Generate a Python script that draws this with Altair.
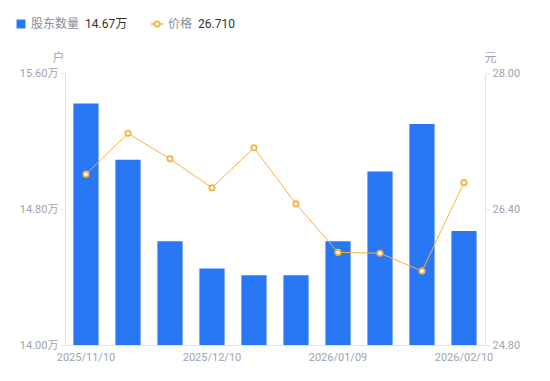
import altair as alt
import pandas as pd

dates = ["2025/11/10", "2025/11/20", "2025/11/30", "2025/12/10", "2025/12/20",
         "2025/12/31", "2026/01/09", "2026/01/20", "2026/01/30", "2026/02/10"]
holders = [15.42, 15.09, 14.61, 14.45, 14.41, 14.41, 14.61, 15.02, 15.30, 14.67]
price = [26.81, 27.29, 26.99, 26.65, 27.12, 26.46, 25.89, 25.88, 25.67, 26.71]
tick_dates = ["2025/11/10", "2025/12/10", "2026/01/09", "2026/02/10"]

df = pd.DataFrame({"date": dates, "holders": holders, "price": price})

FONT = "Roboto, Noto Sans CJK SC"
BLUE = "#2878f5"
ORANGE = "#f7b13d"
LABEL = "#a0a3b1"

x = alt.X("date:O", sort=dates, scale=alt.Scale(paddingInner=0.4, paddingOuter=0.2),
          axis=alt.Axis(values=tick_dates, labelAngle=0, ticks=False, title=None,
                        domainColor="#e3e3e3", labelColor=LABEL, labelFontSize=11,
                        labelFont=FONT, labelPadding=6))

bars = alt.Chart(df).mark_bar(color=BLUE, clip=True).encode(
    x=x,
    y=alt.Y("holders:Q", scale=alt.Scale(domain=[14.0, 15.6], zero=False),
            axis=alt.Axis(values=[14.0, 14.8, 15.6], labelExpr="format(datum.value,'.2f')+'万'",
                          grid=False, domainColor="#e3e3e3", tickColor="#e3e3e3", tickSize=5,
                          labelColor=LABEL, labelFontSize=11, labelFont=FONT, labelPadding=2,
                          title="户", titleAngle=0, titleX=-7, titleY=-16, titleBaseline="middle",
                          titleAlign="center", titleColor=LABEL, titleFontWeight="normal",
                          titleFontSize=12, titleFont=FONT))
)

line_base = alt.Chart(df).encode(
    x=x,
    y=alt.Y("price:Q", scale=alt.Scale(domain=[24.8, 28.0], zero=False),
            axis=alt.Axis(orient="right", values=[24.8, 26.4, 28.0], format=".2f",
                          grid=False, domainColor="#e3e3e3", tickColor="#e3e3e3", tickSize=5,
                          labelColor=LABEL, labelFontSize=11, labelFont=FONT, labelPadding=2,
                          title="元", titleAngle=0, titleX=5, titleY=-16, titleBaseline="middle",
                          titleAlign="center", titleColor=LABEL, titleFontWeight="normal",
                          titleFontSize=12, titleFont=FONT))
)
line = line_base.mark_line(color=ORANGE, strokeWidth=1)
pts = line_base.mark_point(shape="circle", filled=True, fill="white", stroke=ORANGE,
                           strokeWidth=1.8, size=28, opacity=1)

right = alt.layer(line, pts)

leg_df = pd.DataFrame({"k": [0]})
leg = alt.Chart(leg_df)
legend_layers = [
    leg.mark_square(color=BLUE, size=80, cornerRadius=2, opacity=1).encode(x=alt.value(-44), y=alt.value(-49)),
    leg.mark_text(text="股东数量", align="left", baseline="middle", font=FONT, fontSize=12,
                  color="#8a8d9a").encode(x=alt.value(-34), y=alt.value(-49)),
    leg.mark_text(text="14.67万", align="left", baseline="middle", font=FONT, fontSize=12,
                  color="#333333").encode(x=alt.value(20), y=alt.value(-49)),
    leg.mark_rule(color=ORANGE, strokeWidth=1.5).encode(x=alt.value(86), x2=alt.value(98), y=alt.value(-49)),
    leg.mark_point(shape="circle", filled=True, fill="white", stroke=ORANGE, strokeWidth=1.8,
                   size=28, opacity=1).encode(x=alt.value(92), y=alt.value(-49)),
    leg.mark_text(text="价格", align="left", baseline="middle", font=FONT, fontSize=12,
                  color="#8a8d9a").encode(x=alt.value(103), y=alt.value(-49)),
    leg.mark_text(text="26.710", align="left", baseline="middle", font=FONT, fontSize=12,
                  color="#333333").encode(x=alt.value(133), y=alt.value(-49)),
]

chart = alt.layer(bars, right, *legend_layers).resolve_scale(y="independent").properties(
    width=420, height=272,
    background="white",
    autosize=alt.AutoSizeParams(type="none"),
    padding={"left": 57, "top": 65, "right": 57, "bottom": 28},
).configure_view(stroke=None, strokeWidth=0)

chart.save("out.html", embed_options={"renderer": "svg", "actions": False})
